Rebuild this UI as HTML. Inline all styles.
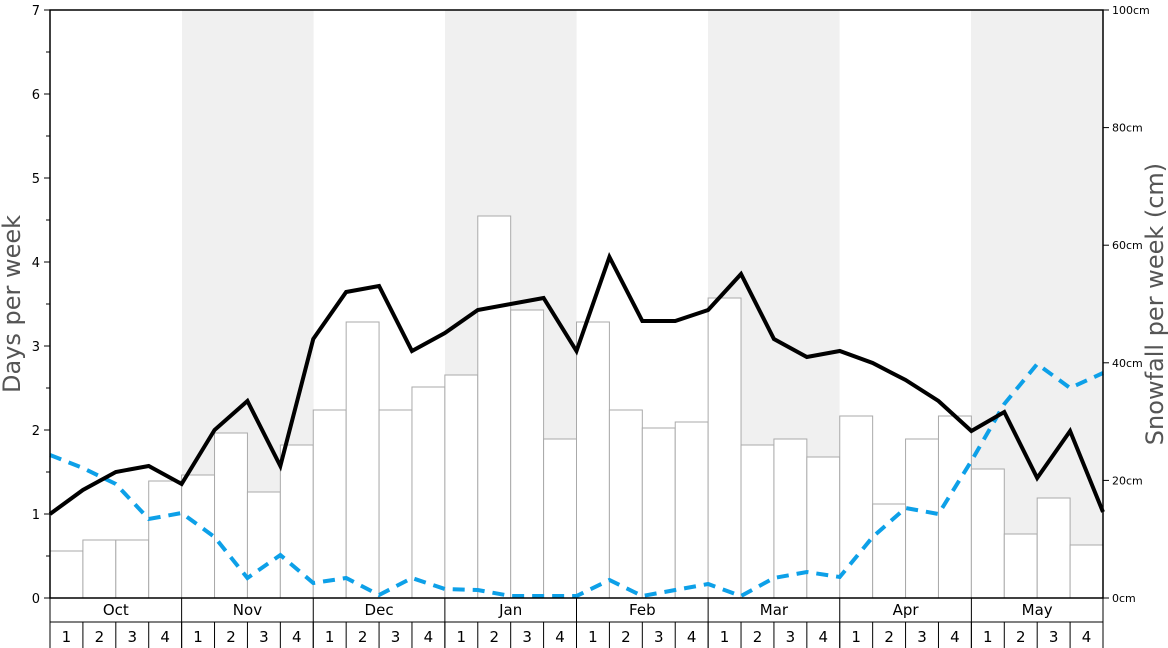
<!DOCTYPE html>
<html><head><meta charset="utf-8"><style>
body{margin:0;background:#fff;}
svg{display:block;font-family:"DejaVu Sans","Liberation Sans",sans-serif;}
</style></head><body>
<svg width="1168" height="648" viewBox="0 0 1168 648" xmlns="http://www.w3.org/2000/svg">
<rect width="1168" height="648" fill="#fff"/>
<g fill="#f0f0f0">
<rect x="182" y="10" width="131.6" height="588"/>
<rect x="445" y="10" width="131.6" height="588"/>
<rect x="708" y="10" width="131.6" height="588"/>
<rect x="971" y="10" width="132" height="588"/>
</g>
<g id="bars" fill="#fff" stroke="#aaa" stroke-width="1"></g>
<polyline id="blue" fill="none" stroke="#0da0e8" stroke-width="4" stroke-dasharray="12,8"/>
<polyline id="black" fill="none" stroke="#000" stroke-width="4" stroke-linejoin="miter"/>
<rect x="50" y="10" width="1053" height="588" fill="none" stroke="#000" stroke-width="1.5"/>
<g id="axes" stroke="#000" stroke-width="1"></g>
<g id="labels" font-size="13" fill="#000"></g>
<text x="20" y="304" font-size="24" fill="#555" text-anchor="middle" transform="rotate(-90 20 304)">Days per week</text>
<text x="1163" y="304" font-size="24" fill="#555" text-anchor="middle" transform="rotate(-90 1163 304)">Snowfall per week (cm)</text>
</svg>
<script>
const ns="http://www.w3.org/2000/svg";
function el(t,a,p,txt){const e=document.createElementNS(ns,t);for(const k in a)e.setAttribute(k,a[k]);if(txt!==undefined)e.textContent=txt;document.getElementById(p).appendChild(e);return e;}
const x0=50,w=(1103-50)/32;
const tops=[551,540,540,481,475,433,492,445,410,322,410,387,375,216,310,439,322,410,428,422,298,445,439,457,416,504,439,416,469,534,498,545];
tops.forEach((t,i)=>el('rect',{x:x0+i*w,y:t,width:w,height:598-t},'bars'));
const bl=[514,490,472,466,484,430,401,466,339,292,286,351,333,310,304,298,351,257,321,321,310,274,339,357,351,363,380,401,431,412,478,431,512];
const bu=[455,468,484,519,513,537,578,555,583,578,595,578,589,590,596,596,596,580,596,590,584,596,578,572,577,537,508,514,461,404,364,388,373];
document.getElementById('black').setAttribute('points',bl.map((y,i)=>(x0+i*w)+','+y).join(' '));
document.getElementById('blue').setAttribute('points',bu.map((y,i)=>(x0+i*w)+','+y).join(' '));
// left ticks
for(let d=0;d<=7;d++){const y=598-d*84;el('line',{x1:44,y1:y,x2:50,y2:y},'axes');el('text',{x:40,y:y+5,'text-anchor':'end'},'labels',d);
 if(d<7){el('line',{x1:46,y1:y-42,x2:50,y2:y-42},'axes');}}
// right ticks
for(let c=0;c<=100;c+=20){const y=598-c*5.88;el('line',{x1:1103,y1:y,x2:1109,y2:y},'axes');el('text',{x:1112,y:y+4,'font-size':'11'},'labels',c+'cm');}
// bottom rows
el('line',{x1:50,y1:622,x2:1103,y2:622},'axes');
el('line',{x1:50,y1:598,x2:50,y2:648},'axes');
el('line',{x1:1103,y1:598,x2:1103,y2:648},'axes');
const months=['Oct','Nov','Dec','Jan','Feb','Mar','Apr','May'];
months.forEach((m,i)=>{const xs=x0+i*4*w;el('line',{x1:xs,y1:598,x2:xs,y2:648},'axes');el('text',{x:xs+2*w,y:615,'text-anchor':'middle','font-size':'15'},'labels',m);
 for(let k=0;k<4;k++){const xk=xs+k*w;el('line',{x1:xk,y1:622,x2:xk,y2:648},'axes');el('text',{x:xk+w/2,y:642,'text-anchor':'middle','font-size':'15'},'labels',k+1);}});
</script>
</body></html>
